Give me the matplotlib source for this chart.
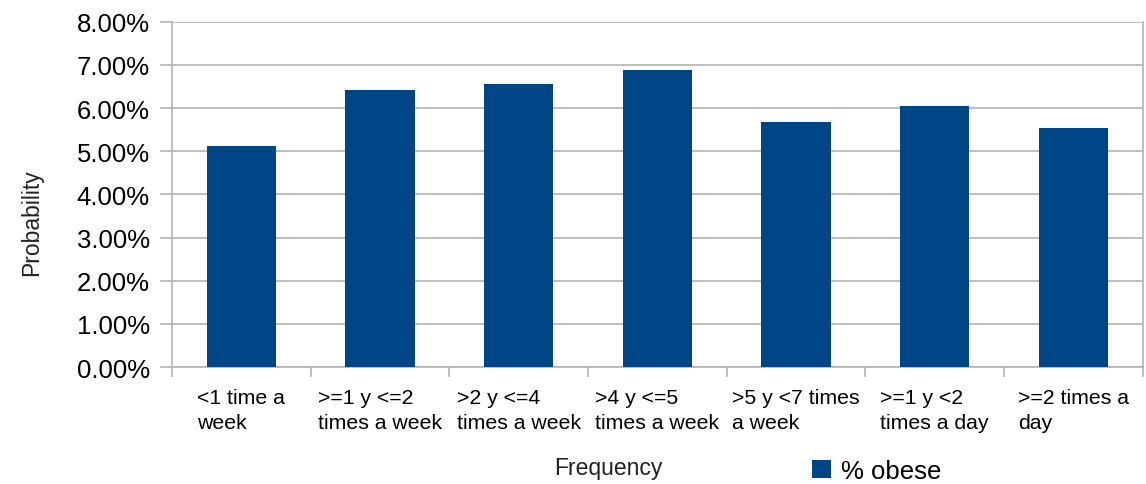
import matplotlib
matplotlib.use("Agg")
import matplotlib.pyplot as plt
from matplotlib.ticker import FuncFormatter, FixedLocator
import numpy as np

categories = ["<1 time a\nweek", ">=1 y <=2\ntimes a week", ">2 y <=4\ntimes a week",
              ">4 y <=5\ntimes a week", ">5 y <7 times\na week", ">=1 y <2\ntimes a day",
              ">=2 times a\nday"]
obese = [0.0513, 0.0643, 0.0657, 0.0689, 0.0568, 0.0606, 0.0555]
series_name = "% obese"

plt.rcParams['font.family'] = ['Liberation Sans', 'DejaVu Sans']
grid_col = "#b3b3b3"
bar_col = "#004586"

fig = plt.figure(figsize=(11.46, 4.85), dpi=100)
ax = fig.add_axes([0.150, 0.241, 0.847, 0.712])

x = np.arange(len(categories))
ax.bar(x, obese, width=0.5, color=bar_col, label=series_name, zorder=3)

ax.set_xlim(-0.5, len(categories) - 0.5)
ax.set_ylim(0, 0.08)
ax.set_yticks(np.arange(0, 0.0801, 0.01))
ax.yaxis.set_major_formatter(FuncFormatter(lambda v, p: f"{v*100:.2f}%"))
ax.yaxis.grid(True, color=grid_col, linewidth=1.2, zorder=0)
ax.tick_params(axis='y', length=9, width=1.2, color=grid_col, labelsize=18.5, pad=7)

ax.set_xticks(x)
ax.set_xticklabels(categories, multialignment='left', fontsize=15.3, linespacing=1.4)
ax.xaxis.set_minor_locator(FixedLocator(np.arange(-0.5, len(categories), 1.0)))
ax.tick_params(axis='x', which='major', length=0, pad=15)
ax.tick_params(axis='x', which='minor', length=7, width=1.2, color=grid_col)

for s in ax.spines.values():
    s.set_color(grid_col)
    s.set_linewidth(1.2)
ax.spines['top'].set_visible(False)

fig.text(0.531, 0.035, "Frequency", ha='center', va='center', fontsize=16.5, color="#222222")
fig.text(0.028, 0.542, "Probability", ha='center', va='center', rotation=90, fontsize=16.5, color="#222222")

fig.legend(loc='center', bbox_to_anchor=(0.765, 0.027), frameon=False, fontsize=18.5,
           handlelength=0.75, handleheight=0.75, handletextpad=0.4, borderpad=0)

fig.savefig("out.png", dpi=100)
